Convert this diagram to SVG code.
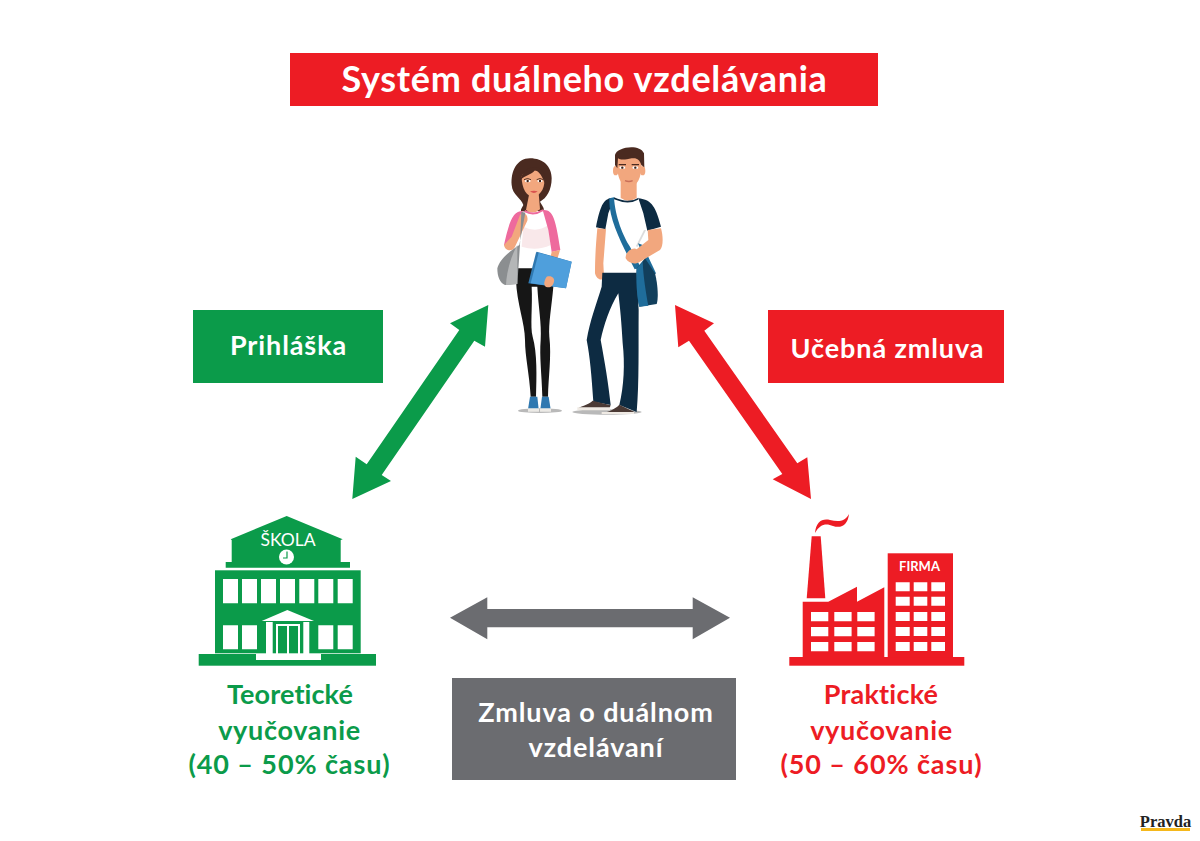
<svg xmlns="http://www.w3.org/2000/svg" width="1200" height="841" viewBox="0 0 1200 841">
<style>
text{font-family:"Lato","Open Sans","Liberation Sans",sans-serif;font-weight:700;text-anchor:middle}
.g{fill:#0b9b4a}.r{fill:#ed1c24}.k{fill:#6b6c70}.w{fill:#fff}
.lw{fill:#fff;font-size:27px;letter-spacing:.9px}.tg{fill:#0b9b4a;font-size:27px;letter-spacing:.7px}.tr{fill:#ed1c24;font-size:27px;letter-spacing:.7px}
.skin{fill:#f2a77e}.hair{fill:#4a2a20}.navy{fill:#0d2b42}.eye{fill:#fff}.pupil{fill:#3a2018}
</style>
<rect width="1200" height="841" fill="#fff"/>
<g id="title"><rect class="r" x="290" y="53" width="588" height="53"/><text x="584.500" y="92" fill="#fff" style="font-size:36px;letter-spacing:.7px">Systém duálneho vzdelávania</text></g>
<g id="students" transform="translate(480 130) scale(.33333)">
<ellipse cx="180" cy="842" rx="66" ry="7" fill="#b9b9b9"/>
<ellipse cx="381" cy="846" rx="104" ry="8" fill="#b9b9b9"/>
<path class="hair" d="M150,85C110,85 92,125 95,165C97,195 125,205 130,225C125,235 120,240 125,245L190,242C195,235 185,225 180,215C200,205 215,180 215,145C215,110 190,85 150,85Z"/>
<path class="skin" d="M148,190L176,190L180,238Q160,256 138,240Z"/>
<path class="skin" d="M125,140C130,115 190,110 193,150C195,180 175,200 160,200C140,200 125,175 125,140Z"/>
<path class="hair" d="M122,150C125,120 160,100 182,118C195,128 196,145 194,160C188,140 178,125 165,120C155,135 135,135 122,150Z"/>
<ellipse class="eye" cx="143" cy="153" rx="9" ry="4"/><ellipse class="eye" cx="180" cy="153" rx="8" ry="4"/>
<circle class="pupil" cx="143" cy="153" r="3.500"/><circle class="pupil" cx="180" cy="153" r="3.500"/>
<path d="M132,149Q143,142 153,149M170,149Q180,142 190,149" stroke="#3a2018" stroke-width="2.500" fill="none"/>
<path d="M150,184Q162,180 173,184Q162,194 150,184Z" fill="#d9534f"/>
<path fill="#fff" d="M125,243Q160,256 190,240C205,260 215,300 215,360L210,415L115,415L120,340Z"/>
<path fill="#f9e8ea" d="M130,290Q170,310 205,285L212,345Q170,365 125,350Z"/>
<path fill="#ee6a9d" d="M128,243C100,245 90,265 72,345L100,355L130,285ZM188,240C215,240 225,250 241,360L215,366L205,300Z"/>
<path fill="#ee6a9d" d="M135,240Q160,256 188,238L190,243Q160,262 133,246Z"/>
<path class="skin" d="M72,345C75,365 100,365 105,350L142,272C146,252 130,245 120,255L95,320Z"/>
<path d="M110,415L208,415L220,470C215,530 205,580 208,620C215,680 205,740 204,800L187,800C185,730 178,680 182,630C185,580 175,530 172,470L155,470C158,530 150,590 158,620C172,670 170,740 168,800L152,800C148,730 135,680 135,630C135,580 110,520 108,450Z" fill="#161616"/>
<path fill="#8b8e90" d="M124,245L136,248L118,345L108,352C90,365 60,385 52,415C52,440 60,460 75,465L112,462L120,345Z"/>
<path fill="#b4b6b7" d="M112,345C95,375 80,420 78,465L112,462Z"/>
<path class="skin" d="M215,365L240,360C235,380 225,400 222,440L200,440Z"/>
<path fill="#2f78b0" d="M168,368L170,365L275,395L258,475L145,460Z"/>
<path fill="#4f9fdc" d="M176,368L275,395L258,475L152,460Z"/>
<path class="skin" d="M200,440C215,435 225,445 222,455C218,470 210,472 203,472C190,470 190,455 200,440Z"/>
<path fill="#2f78b0" d="M150,800H172L176,838H144ZM186,800H206L212,838H181Z"/>
<path fill="#eceae6" d="M144,835H177V845H144ZM180,835H213V845H180Z"/>
<path class="skin" d="M422,150H470V204Q445,220 422,204Z"/>
<path fill="#fff" d="M395,205Q445,225 475,205L495,250L500,400L495,432H367L380,300L385,240Z"/>
<path fill="#dcdcdc" d="M492,300L498,300L472,352L468,348Z"/>
<path class="navy" d="M390,205C370,210 360,230 348,292L376,298L385,250L402,206ZM475,205C510,210 525,220 543,290L502,302L490,250Z"/>
<path class="navy" d="M402,202Q445,222 476,203L474,209Q445,226 402,208Z"/>
<path class="skin" d="M352,295L378,297L370,400L372,440C368,455 350,450 345,430C345,380 348,340 352,295Z"/>
<path class="skin" d="M410,95C410,65 485,65 485,100C485,145 470,172 447,172C425,172 410,140 410,95Z"/>
<ellipse class="skin" cx="407" cy="122" rx="8" ry="14"/><ellipse class="skin" cx="488" cy="122" rx="8" ry="14"/>
<path class="hair" d="M405,75C410,50 480,40 492,70L493,112L484,105C480,90 470,82 455,85C435,90 420,90 414,85L412,115L405,105Z"/>
<ellipse class="eye" cx="427" cy="113" rx="9" ry="4"/><ellipse class="eye" cx="466" cy="113" rx="9" ry="4"/>
<circle class="pupil" cx="427" cy="113" r="3.500"/><circle class="pupil" cx="466" cy="113" r="3.500"/>
<path d="M416,104h22M455,104h22" stroke="#4a2a20" stroke-width="4" fill="none"/>
<path d="M435,152Q447,157 458,152" stroke="#c96f58" stroke-width="4" fill="none"/>
<path fill="#1f6d9b" d="M474,340L488,345L528,430L515,440Z"/>
<path fill="#1f6d9b" d="M388,205L402,202C405,260 430,320 450,350L482,412L464,418C430,350 385,270 388,205Z"/>
<path class="navy" d="M367,428L470,428L476,540C475,640 478,760 470,846L418,825C432,770 435,700 428,640C425,580 420,530 415,490C390,530 370,590 362,630C375,700 385,760 392,825L340,815C335,740 330,680 320,630C330,570 350,520 365,470Z"/>
<path fill="#123f5c" d="M470,415L495,385L525,430C535,470 535,510 530,522L478,530C470,500 468,450 470,415Z"/>
<path fill="#1f6d9b" d="M470,415L488,395C490,440 498,490 505,527L478,530C470,500 468,450 470,415Z"/>
<path class="skin" d="M503,300L543,295C550,320 550,350 540,360L480,395C465,405 445,400 437,385C435,365 460,350 470,358L505,330Z"/>
<path fill="#4b3a35" d="M338,812L392,826L388,836H294C300,828 325,825 338,812ZM418,824L462,845L458,850H368C385,845 405,838 418,824Z"/>
<path fill="#efeae4" d="M292,832H390V841H292ZM365,846H462V852H365Z"/>
</g>
<g id="connectors">
<polygon class="g" id="arrow-left" points="488.300,305 485,346.700 474.300,340.700 381.700,475 391,481 352.300,499 355.700,456.700 366.700,464.300 459.300,330 450,323.300"/>
<polygon class="r" id="arrow-right" points="675,305 714,323.300 704.300,330.700 797.300,463.300 807.300,457.300 811,499 772.700,479.300 782.300,474 689,340.700 678.300,347.300"/>
<polygon class="k" id="arrow-bottom" points="450,617.700 487.300,597.300 487.300,609 692.700,609 692.700,597.300 730,617.700 692.700,639.300 692.700,627.300 487.300,627.300 487.300,639.300"/>
</g>
<g id="prihlaska"><rect class="g" x="193" y="310" width="190" height="73"/><text class="lw" x="288.500" y="355">Prihláška</text></g>
<g id="ucebna"><rect class="r" x="768" y="310" width="236" height="73"/><text class="lw" x="887.500" y="358">Učebná zmluva</text></g>
<g id="zmluva"><rect class="k" x="452" y="678" width="284" height="102"/><text class="lw" x="596" y="721.500">Zmluva o duálnom</text><text class="lw" x="596" y="757">vzdelávaní</text></g>
<g id="skola">
<path class="g" d="M286.700,516L342.700,539.300L340.700,540V562H350V567.700H225.700V562H231.700V540L230.700,539.300Z"/>
<rect class="g" x="215" y="570.300" width="145.700" height="83"/>
<rect class="g" x="198.700" y="654" width="177.300" height="11.700"/>
<path class="w" d="M223,579h15v24.300h-15zM242,579h15v24.300h-15zM261,579h15v24.300h-15zM280,579h15v24.300h-15zM299.300,579h15v24.300h-15zM318.300,579h15v24.300h-15zM337.700,579h15v24.300h-15zM223,625.300h15v24h-15zM242,625.300h15v24h-15zM318.300,625.300h15v24h-15zM337.700,625.300h15v24h-15z"/>
<path class="w" d="M287.300,610L314,621H261.700Z"/>
<path class="w" d="M266,622h6.700v32h-6.700zM303.300,622h6v32h-6zM276,624h2v30h-2zM287,624h2v30h-2zM298,624h2v30h-2zM276,624h24v2h-24zM256,654h65v6h-65z"/>
<text x="288" y="546" fill="#fff" style="font-size:17.500px;font-weight:400">ŠKOLA</text>
<circle class="w" cx="286.500" cy="557" r="7.500"/>
<path d="M287,551.500V558H283" stroke="#0b9b4a" stroke-width="1.200" fill="none"/>
<text class="tg" x="290" y="704" style="letter-spacing:.1px">Teoretické</text><text class="tg" x="289.500" y="740">vyučovanie</text><text class="tg" x="289.500" y="774" style="letter-spacing:.9px">(40 – 50% času)</text>
</g>
<g id="firma">
<rect class="r" x="789.300" y="657" width="175" height="8.700"/>
<rect class="r" x="887.700" y="553.300" width="65.300" height="104"/>
<path class="r" d="M802.700,601.700H828.300L857,586.700V601.700L884.300,587.300V657H802.700Z"/>
<path class="r" d="M811.700,536.300H820.700L825.300,598.300H806.700Z"/>
<path class="r" d="M815,533C816,522 822,518 830,520C838,522 845,522 849,514C848,524 842,529 833,526C826,523 820,524 815,533Z"/>
<path class="w" d="M811,612h17.300v9.300h-17.300zM834.300,612h17.300v9.300h-17.300zM857.300,612h17.300v9.300h-17.300zM811,627h17.300v9.300h-17.300zM834.300,627h17.300v9.300h-17.300zM857.300,627h17.300v9.300h-17.300zM811,642h17.300v9.300h-17.300zM834.300,642h17.300v9.300h-17.300zM857.300,642h17.300v9.300h-17.300z"/>
<path class="w" d="M895.700,582.300h14v9h-14zM913.700,582.300h13.600v9h-13.600zM931.300,582.300h13.700v9h-13.700zM895.700,596.700h14v9h-14zM913.700,596.700h13.600v9h-13.600zM931.300,596.700h13.700v9h-13.700zM895.700,612h14v9h-14zM913.700,612h13.600v9h-13.600zM931.300,612h13.700v9h-13.700zM895.700,627h14v9h-14zM913.700,627h13.600v9h-13.600zM931.300,627h13.700v9h-13.700zM895.700,642h14v9h-14zM913.700,642h13.600v9h-13.600zM931.300,642h13.700v9h-13.700z"/>
<text x="919.500" y="571" fill="#fff" style="font-size:13px">FIRMA</text>
<text class="tr" x="881" y="704" style="letter-spacing:.2px">Praktické</text><text class="tr" x="881.500" y="740">vyučovanie</text><text class="tr" x="881.500" y="774" style="letter-spacing:.9px">(50 – 60% času)</text>
</g>
<g id="pravda"><text x="1165.500" y="826.500" style="font-family:'Liberation Serif',serif;font-size:16.500px;font-weight:700" fill="#222">Pravda</text><rect x="1141" y="828" width="49" height="3" fill="#f5b81c"/></g>
</svg>
